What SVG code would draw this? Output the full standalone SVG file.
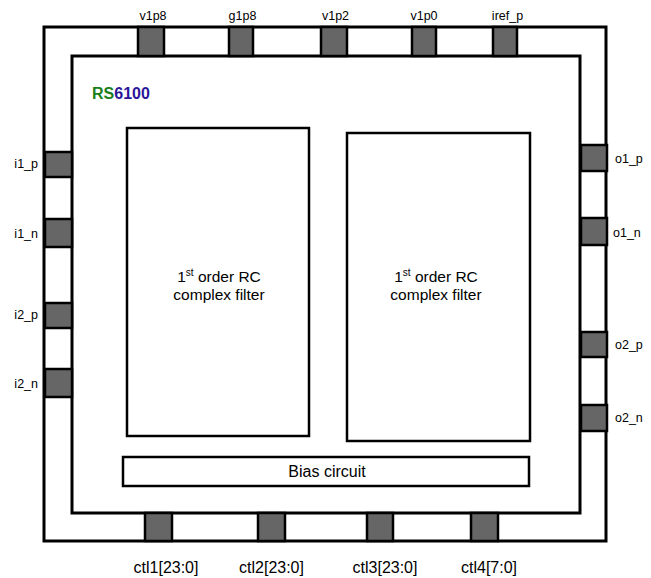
<svg xmlns="http://www.w3.org/2000/svg" width="651" height="578" viewBox="0 0 651 578">
<style>
.frame{fill:none;stroke:#000;stroke-width:3}
.box{fill:#fff;stroke:#000;stroke-width:2.5}
.pad{fill:#666;stroke:#000;stroke-width:2.5}
.lbl{font-family:"Liberation Sans",Arial,sans-serif;font-size:12.5px;fill:#000}
.big{font-family:"Liberation Sans",Arial,sans-serif;font-size:16px;fill:#000}
.mid{font-family:"Liberation Sans",Arial,sans-serif;font-size:15.5px;fill:#000}
</style>
<rect width="651" height="578" fill="#fff"/>
<g id="chip">
<rect class="frame" x="44" y="27" width="562" height="514"/>
<rect class="frame" x="72" y="56" width="508" height="457"/>
<text x="92" y="99" font-family="Liberation Sans,Arial,sans-serif" font-size="16" font-weight="bold"><tspan fill="#1a7f1a">RS</tspan><tspan fill="#2b1699">6100</tspan></text>
</g>
<g id="filter1">
<rect class="box" x="127" y="128" width="182" height="308"/>
<text class="mid" x="219" y="282" text-anchor="middle">1<tspan font-size="10" dy="-6">st</tspan><tspan dy="6"> order RC</tspan></text>
<text class="mid" x="219" y="300" text-anchor="middle">complex filter</text>
</g>
<g id="filter2">
<rect class="box" x="347" y="133" width="183" height="308"/>
<text class="mid" x="436" y="282" text-anchor="middle">1<tspan font-size="10" dy="-6">st</tspan><tspan dy="6"> order RC</tspan></text>
<text class="mid" x="436" y="300" text-anchor="middle">complex filter</text>
</g>
<g id="bias">
<rect class="box" x="123" y="457" width="406" height="29"/>
<text class="big" x="327" y="477" text-anchor="middle">Bias circuit</text>
</g>
<g id="pads-top">
<rect class="pad" x="138" y="27" width="26" height="29"/>
<rect class="pad" x="229" y="27" width="24" height="29"/>
<rect class="pad" x="321" y="27" width="26" height="29"/>
<rect class="pad" x="412" y="27" width="24" height="29"/>
<rect class="pad" x="493" y="27" width="24" height="29"/>
<text class="lbl" x="153" y="20" text-anchor="middle">v1p8</text>
<text class="lbl" x="242.5" y="20" text-anchor="middle">g1p8</text>
<text class="lbl" x="335.5" y="20" text-anchor="middle">v1p2</text>
<text class="lbl" x="424" y="20" text-anchor="middle">v1p0</text>
<text class="lbl" x="507.5" y="20" text-anchor="middle">iref_p</text>
</g>
<g id="pads-left">
<rect class="pad" x="45" y="152" width="27" height="25"/>
<rect class="pad" x="45" y="219" width="27" height="28"/>
<rect class="pad" x="45" y="303" width="27" height="25"/>
<rect class="pad" x="45" y="369" width="27" height="28"/>
<text class="lbl" x="38" y="168" text-anchor="end">i1_p</text>
<text class="lbl" x="38" y="238" text-anchor="end">i1_n</text>
<text class="lbl" x="38" y="319" text-anchor="end">i2_p</text>
<text class="lbl" x="38" y="388" text-anchor="end">i2_n</text>
</g>
<g id="pads-right">
<rect class="pad" x="581" y="145" width="26" height="26"/>
<rect class="pad" x="581" y="218" width="26" height="27"/>
<rect class="pad" x="581" y="332" width="26" height="25"/>
<rect class="pad" x="581" y="405" width="26" height="26"/>
<text class="lbl" x="615" y="163">o1_p</text>
<text class="lbl" x="613" y="237">o1_n</text>
<text class="lbl" x="615" y="349">o2_p</text>
<text class="lbl" x="615" y="422">o2_n</text>
</g>
<g id="pads-bottom">
<rect class="pad" x="145" y="513" width="27" height="28"/>
<rect class="pad" x="258" y="513" width="27" height="28"/>
<rect class="pad" x="367" y="513" width="26" height="28"/>
<rect class="pad" x="471" y="513" width="27" height="28"/>
<text class="big" x="166" y="573" text-anchor="middle">ctl1[23:0]</text>
<text class="big" x="271.5" y="573" text-anchor="middle">ctl2[23:0]</text>
<text class="big" x="385" y="573" text-anchor="middle">ctl3[23:0]</text>
<text class="big" x="489" y="573" text-anchor="middle">ctl4[7:0]</text>
</g>
<g id="connectors"></g>
</svg>
